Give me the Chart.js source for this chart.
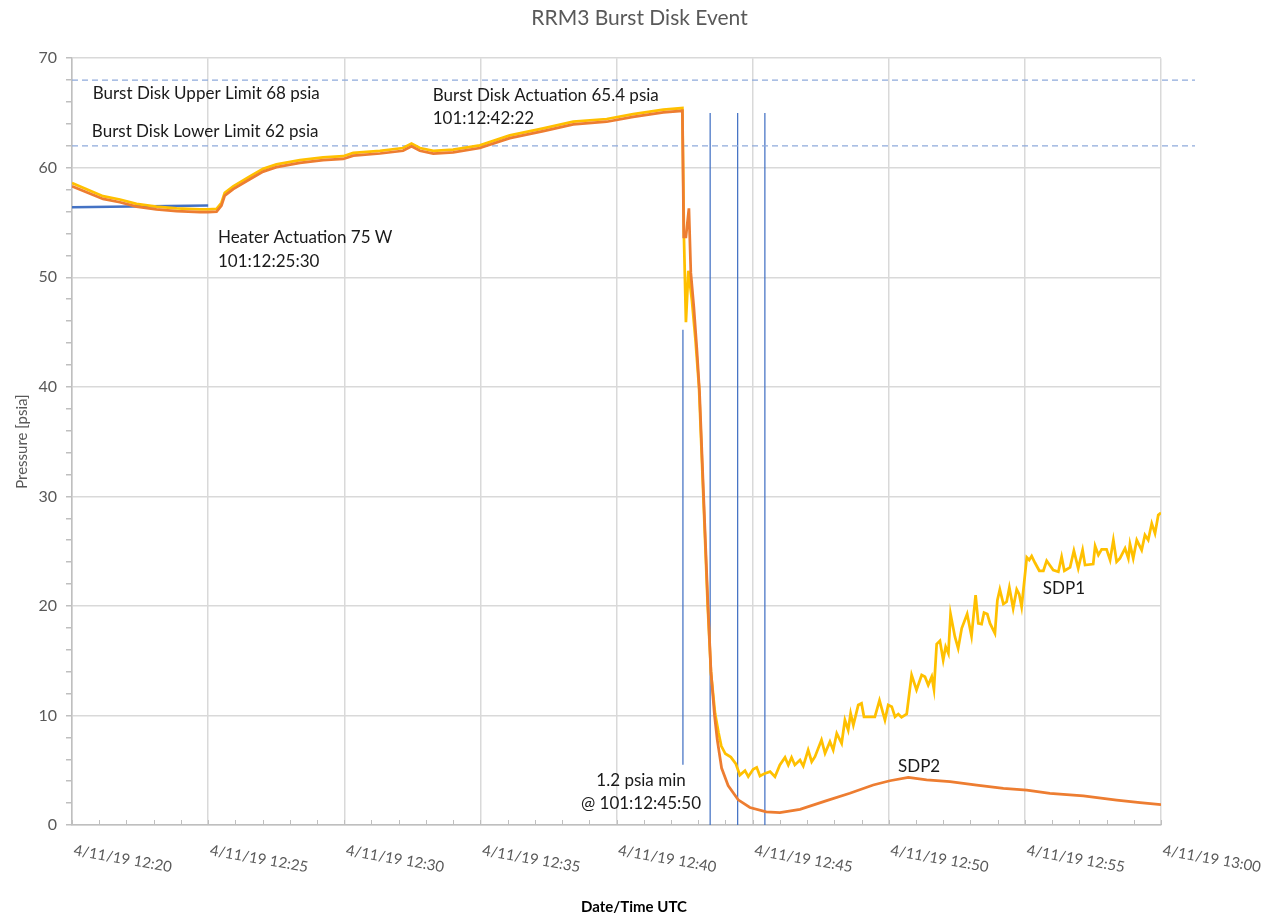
<!DOCTYPE html>
<html>
<head>
<meta charset="utf-8">
<script src="https://cdn.jsdelivr.net/npm/chart.js@4.4.1/dist/chart.umd.min.js"></script>
<style>
  html, body { margin: 0; padding: 0; background: #fff; }
</style>
</head>
<body>
<canvas id="burst" width="1279" height="918"></canvas>
<script>
// minutes after 4/11/19 12:20 UTC
const timeTicks = [0, 5, 10, 15, 20, 25, 30, 35, 40];
const timeLabels = ['4/11/19 12:20', '4/11/19 12:25', '4/11/19 12:30', '4/11/19 12:35',
  '4/11/19 12:40', '4/11/19 12:45', '4/11/19 12:50', '4/11/19 12:55', '4/11/19 13:00'];

const sdp1Time = [0, 1.14, 1.76, 2.37, 3.1, 3.84, 4.7, 5.0, 5.31, 5.49, 5.61, 5.92, 6.53, 7.02, 7.51, 8.37,
  9.22, 9.96, 10.33, 11.31, 12.16, 12.47, 12.78, 13.27, 14.0, 14.98, 16.08, 17.31, 18.41, 19.64, 20.61,
  21.72, 22.42, 22.48, 22.55, 22.64, 22.77, 22.9, 23.03, 23.19, 23.35, 23.47, 23.62, 23.75, 23.85, 24.0,
  24.2, 24.38, 24.53, 24.72, 24.84, 25.02, 25.15, 25.27, 25.45, 25.64, 25.82, 26.0, 26.19, 26.31, 26.43,
  26.55, 26.74, 26.86, 27.04, 27.17, 27.29, 27.53, 27.66, 27.84, 27.96, 28.09, 28.27, 28.39, 28.51, 28.6,
  28.7, 28.88, 29.0, 29.09, 29.31, 29.49, 29.66, 29.86, 29.98, 30.11, 30.23, 30.35, 30.47, 30.66, 30.84,
  31.02, 31.21, 31.33, 31.45, 31.58, 31.66, 31.76, 31.88, 32.0, 32.09, 32.19, 32.27, 32.43, 32.55, 32.68,
  32.88, 33.04, 33.19, 33.29, 33.41, 33.5, 33.62, 33.72, 33.9, 33.99, 34.08, 34.21, 34.33, 34.43, 34.57,
  34.7, 34.79, 34.88, 35.07, 35.16, 35.25, 35.37, 35.53, 35.68, 35.8, 36.04, 36.23, 36.35, 36.45, 36.66,
  36.8, 36.96, 37.12, 37.21, 37.51, 37.58, 37.7, 37.82, 38.0, 38.13, 38.25, 38.37, 38.49, 38.68, 38.8,
  38.86, 38.98, 39.11, 39.29, 39.41, 39.53, 39.66, 39.78, 39.9, 40.0];
const sdp1Psia = [58.6, 57.4, 57.1, 56.7, 56.45, 56.3, 56.2, 56.2, 56.25, 56.8, 57.7, 58.3, 59.2, 59.9, 60.3, 60.7,
  60.95, 61.05, 61.35, 61.55, 61.8, 62.2, 61.8, 61.55, 61.65, 62.05, 62.95, 63.6, 64.2, 64.45, 64.9,
  65.3, 65.45, 53.4, 45.9, 50.6, 47.9, 44.3, 40.0, 30.0, 20.0, 13.9, 10.2, 8.4, 7.2, 6.5,
  6.2, 5.6, 4.56, 4.96, 4.41, 5.08, 5.26, 4.47, 4.71, 4.87, 4.41, 5.48, 6.17, 5.48, 6.17,
  5.48, 5.93, 5.38, 6.84, 5.78, 6.24, 7.76, 6.54, 7.6, 6.84, 8.37, 7.46, 9.58, 8.67, 10.19,
  9.13, 10.95, 11.1, 9.88, 9.88, 9.88, 11.38, 9.58, 10.95, 10.8, 9.88, 10.13, 9.83, 10.13, 13.69,
  12.32, 13.69, 13.54, 12.78, 13.54, 12.38, 16.52, 16.82, 15.06, 16.27, 15.67, 19.26, 17.19, 16.12, 17.95,
  19.26, 17.25, 20.99, 18.4, 18.34, 19.38, 19.26, 18.4, 17.49, 20.53, 21.5, 20.17, 20.38, 21.69, 19.78,
  21.51, 21.08, 19.92, 24.43, 24.19, 24.55, 23.94, 23.21, 23.21, 24.12, 23.27, 23.12, 24.49, 23.21, 23.52,
  25.04, 23.43, 25.1, 23.73, 23.82, 25.46, 24.64, 25.16, 25.16, 24.19, 26.01, 24.03, 24.34, 25.25, 24.34,
  25.65, 24.34, 26.01, 25.1, 26.47, 26.01, 27.53, 26.62, 28.29, 28.5];

const sdp2Time = [0, 1.14, 1.76, 2.37, 3.1, 3.84, 4.7, 5.0, 5.31, 5.49, 5.61, 5.92, 6.53, 7.02, 7.51, 8.37,
  9.22, 9.96, 10.33, 11.31, 12.16, 12.47, 12.78, 13.27, 14.0, 14.98, 16.08, 17.31, 18.41, 19.64, 20.61,
  21.72, 22.42, 22.47, 22.55, 22.66, 22.73, 22.84, 22.95, 23.05, 23.2, 23.36, 23.47, 23.6, 23.7, 23.86,
  24.1, 24.47, 24.9, 25.5, 26.0, 26.74, 27.72, 28.57, 29.43, 30.04, 30.72, 31.39, 32.25, 33.23, 34.21,
  35.07, 35.92, 37.15, 38.37, 39.23, 40.0];
const sdp2Psia = [58.3, 57.15, 56.85, 56.45, 56.2, 56.05, 55.95, 55.95, 56.0, 56.55, 57.45, 58.05, 58.95, 59.65, 60.05, 60.45,
  60.7, 60.8, 61.1, 61.3, 61.55, 61.95, 61.55, 61.3, 61.4, 61.8, 62.7, 63.35, 63.95, 64.2, 64.65,
  65.05, 65.2, 53.7, 53.7, 56.3, 50.4, 47.3, 43.5, 39.5, 30.0, 20.0, 14.0, 10.0, 7.8, 5.2,
  3.6, 2.3, 1.6, 1.2, 1.13, 1.43, 2.22, 2.9, 3.65, 4.04, 4.35, 4.11, 3.96, 3.65, 3.35,
  3.19, 2.89, 2.65, 2.28, 2.04, 1.85];

const refTime = [0, 5.0];
const refPsia = [56.4, 56.55];

const limitTime = [0, 41.25];
const upperLimit = [68, 68];
const lowerLimit = [62, 62];

const markerTime = [22.44, 23.44, 24.45, 25.45];
const markerLow = [5.5, 0, 0, 0];
const markerHigh = [45.2, 65, 65, 65];

const notes = [
  { text: 'Burst Disk Upper Limit 68 psia', t: 0.76, p: 66.8, align: 'left' },
  { text: 'Burst Disk Lower Limit 62 psia', t: 0.73, p: 63.3, align: 'left' },
  { text: 'Burst Disk Actuation 65.4 psia', t: 13.25, p: 66.6, align: 'left' },
  { text: '101:12:42:22', t: 13.25, p: 64.5, align: 'left' },
  { text: 'Heater Actuation 75 W', t: 5.36, p: 53.6, align: 'left' },
  { text: '101:12:25:30', t: 5.36, p: 51.4, align: 'left' },
  { text: '1.2 psia min', t: 20.9, p: 4.1, align: 'center' },
  { text: '@ 101:12:45:50', t: 20.9, p: 2.0, align: 'center' },
  { text: 'SDP1', t: 35.66, p: 21.6, align: 'left' },
  { text: 'SDP2', t: 30.34, p: 5.3, align: 'left' }
];

const pts = (xs, ys) => xs.map((v, i) => ({ x: v, y: ys[i] }));

const lineSet = (data, color, width, extra) => Object.assign({
  data, borderColor: color, borderWidth: width, pointRadius: 0, tension: 0, fill: false
}, extra || {});

const datasets = [
  lineSet(pts(sdp2Time, sdp2Psia), '#ED7D31', 2.75),
  lineSet(pts(sdp1Time, sdp1Psia), '#FFC000', 2.75),
  lineSet(pts(refTime, refPsia), '#4472C4', 2.5),
  lineSet(pts(limitTime, upperLimit), '#8FAADC', 1.2, { borderDash: [6, 4], clip: false }),
  lineSet(pts(limitTime, lowerLimit), '#8FAADC', 1.2, { borderDash: [6, 4], clip: false })
];
markerTime.forEach((m, i) => {
  datasets.push(lineSet(pts([m, m], [markerLow[i], markerHigh[i]]), '#4472C4', 1.25));
});

const overlay = {
  id: 'overlay',
  afterDraw(chart) {
    const { ctx, scales: { x, y } } = chart;
    ctx.save();

    // small ticks every minute, pointing into the plot
    ctx.strokeStyle = '#bfbfbf';
    ctx.lineWidth = 1;
    x.ticks.forEach(t => {
      const px = Math.round(x.getPixelForValue(t.value)) + 0.5;
      ctx.beginPath();
      ctx.moveTo(px, y.bottom);
      ctx.lineTo(px, y.bottom - 5);
      ctx.stroke();
    });

    // slanted date labels
    ctx.fillStyle = '#595959';
    ctx.font = '15px Lato';
    ctx.textAlign = 'left';
    ctx.textBaseline = 'alphabetic';
    timeTicks.forEach((m, i) => {
      ctx.save();
      ctx.translate(x.getPixelForValue(m) + 1, y.bottom + 30);
      ctx.rotate(10 * Math.PI / 180);
      ctx.fillText(timeLabels[i], 0, 0);
      ctx.restore();
    });

    // axis title, centred on the page like the original
    ctx.fillStyle = '#000';
    ctx.font = 'bold 15px Lato';
    ctx.textAlign = 'center';
    ctx.textBaseline = 'middle';
    ctx.fillText('Date/Time UTC', 634, 907);

    // notes
    ctx.fillStyle = '#1a1a1a';
    ctx.font = '17px Lato';
    notes.forEach(n => {
      ctx.textAlign = n.align;
      ctx.fillText(n.text, x.getPixelForValue(n.t), y.getPixelForValue(n.p));
    });
    ctx.restore();
  }
};

new Chart(document.getElementById('burst'), {
  type: 'line',
  data: { datasets },
  plugins: [overlay],
  options: {
    responsive: false,
    animation: false,
    layout: { padding: 0 },
    plugins: {
      legend: { display: false },
      tooltip: { enabled: false },
      title: {
        display: true,
        text: 'RRM3 Burst Disk Event',
        color: '#595959',
        font: { family: 'Lato', size: 21, weight: 'normal' },
        padding: { top: 6, bottom: 27 }
      }
    },
    scales: {
      x: {
        type: 'linear',
        min: 0,
        max: 40,
        ticks: { stepSize: 1, display: false },
        grid: {
          color: c => (c.tick && c.tick.value % 5 === 0) ? '#d9d9d9' : 'rgba(0,0,0,0)',
          lineWidth: 1.5,
          drawTicks: false
        },
        border: { color: '#bfbfbf', width: 1.5 },
        afterFit: s => { s.height = 93; }
      },
      y: {
        min: 0,
        max: 70,
        ticks: {
          stepSize: 2,
          autoSkip: false,
          padding: 9,
          color: '#595959',
          font: { family: 'Lato', size: 16 },
          callback: v => (v % 10 === 0 ? v : '')
        },
        grid: {
          color: c => (c.tick && c.tick.value % 10 === 0) ? '#d9d9d9' : 'rgba(0,0,0,0)',
          lineWidth: 1.5,
          tickColor: '#bfbfbf',
          tickLength: 6
        },
        border: { color: '#bfbfbf', width: 1.5 },
        title: {
          display: true,
          text: 'Pressure [psia]',
          color: '#595959',
          font: { family: 'Lato', size: 15 },
          padding: { top: 13, bottom: 0 }
        },
        afterFit: s => { s.width = 72; }
      },
      // empty right-hand margin so the title centres on the page
      spacer: {
        position: 'right',
        min: 0,
        max: 70,
        ticks: { display: false },
        grid: { display: false },
        border: { display: false },
        afterFit: s => { s.width = 118; }
      }
    }
  }
});
</script>
</body>
</html>
